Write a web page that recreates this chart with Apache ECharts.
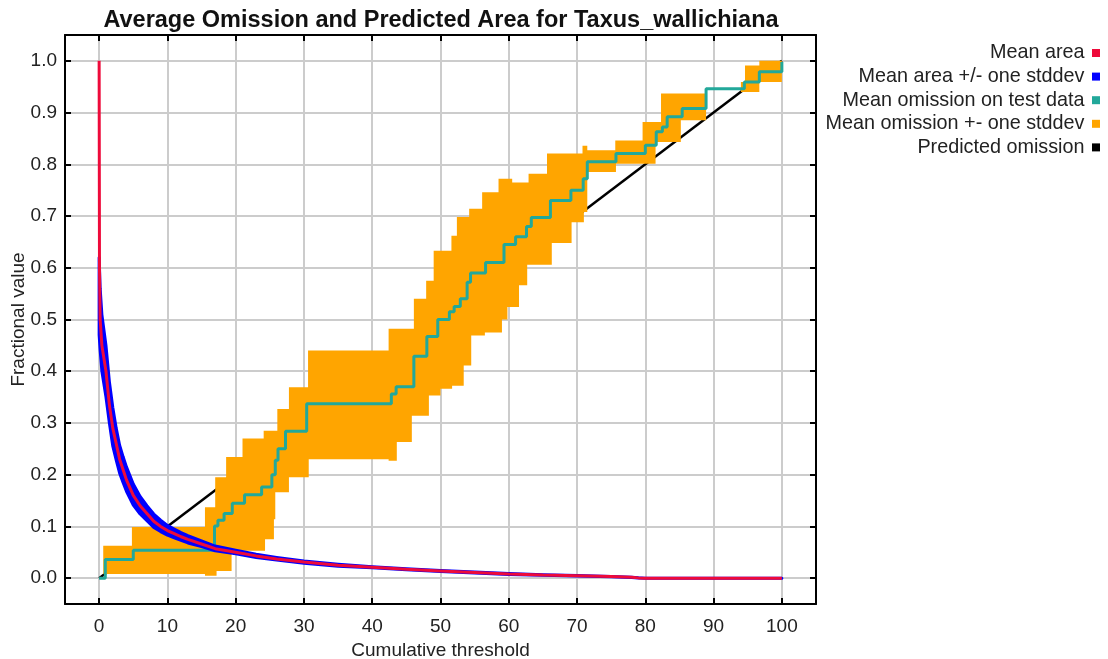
<!DOCTYPE html>
<html><head><meta charset="utf-8">
<script src="https://cdn.jsdelivr.net/npm/echarts@6/dist/echarts.min.js"></script>
<style>html,body{margin:0;padding:0;background:#fff}#c{width:1108px;height:659px}</style>
</head><body><div id="c"></div>
<script>
const titleText = 'Average Omission and Predicted Area for Taxus_wallichiana';
const xName = 'Cumulative threshold';
const yName = 'Fractional value';
const legendNames = ['Mean area', 'Mean area +/- one stddev', 'Mean omission on test data', 'Mean omission +- one stddev', 'Predicted omission'];

// Mean predicted area and +/- one stddev
const areaX    = [0, 0.05, 0.15, 0.4, 1, 1.5, 2, 2.5, 3, 3.5, 4, 5, 6, 7, 8, 9, 10, 11, 12, 13, 15, 17, 20, 23, 26, 30, 35, 40, 45, 50, 55, 60, 65, 70, 75, 78, 79, 80, 100];
const areaMean = [1.0, 0.60, 0.50, 0.45, 0.40, 0.335, 0.29, 0.26, 0.23, 0.21, 0.19, 0.16, 0.14, 0.125, 0.11, 0.10, 0.092, 0.086, 0.08, 0.075, 0.066, 0.057, 0.05, 0.043, 0.037, 0.031, 0.025, 0.021, 0.017, 0.014, 0.011, 0.008, 0.006, 0.0045, 0.003, 0.0015, 0.0005, 0, 0];
const areaHi   = [0.62, 0.60, 0.56, 0.51, 0.45, 0.38, 0.33, 0.29, 0.257, 0.235, 0.215, 0.182, 0.158, 0.14, 0.124, 0.112, 0.102, 0.095, 0.088, 0.082, 0.072, 0.062, 0.054, 0.046, 0.04, 0.033, 0.027, 0.022, 0.018, 0.015, 0.012, 0.009, 0.0065, 0.005, 0.0032, 0.0017, 0.0006, 0, 0];
const areaLo   = [0.47, 0.46, 0.44, 0.40, 0.35, 0.30, 0.255, 0.228, 0.203, 0.185, 0.168, 0.141, 0.124, 0.111, 0.098, 0.09, 0.083, 0.078, 0.073, 0.068, 0.061, 0.053, 0.047, 0.04, 0.035, 0.029, 0.023, 0.02, 0.016, 0.013, 0.01, 0.007, 0.0055, 0.004, 0.0028, 0.0013, 0.0004, 0, 0];

// Mean omission on test data (step: value starts at x)
const omMeanX = [0, 0.9, 5.0, 16.9, 17.4, 18.3, 19.5, 21.3, 23.8, 25.3, 25.8, 26.2, 27.3, 30.4, 42.8, 43.5, 46.1, 48.0, 49.6, 51.3, 52.0, 52.9, 53.9, 54.4, 56.6, 59.3, 61.0, 62.6, 63.3, 66.1, 69.1, 70.9, 71.5, 75.7, 80.0, 81.6, 82.5, 83.2, 85.4, 88.9, 94.5, 96.7, 100];
const omMeanY = [0, 0.036, 0.054, 0.101, 0.112, 0.125, 0.145, 0.161, 0.176, 0.200, 0.228, 0.250, 0.284, 0.337, 0.356, 0.370, 0.429, 0.467, 0.500, 0.515, 0.525, 0.540, 0.572, 0.590, 0.610, 0.645, 0.660, 0.680, 0.697, 0.730, 0.750, 0.772, 0.805, 0.821, 0.837, 0.863, 0.872, 0.892, 0.908, 0.946, 0.959, 0.979, 0.998];

// Mean omission + one stddev (upper step edge)
const omHiX = [0.6, 4.8, 15.5, 17.0, 18.6, 21.0, 24.1, 26.1, 27.8, 30.6, 42.4, 46.1, 47.9, 49.0, 51.6, 52.4, 54.2, 56.1, 58.5, 60.5, 62.9, 65.6, 70.8, 71.5, 75.6, 79.6, 82.3, 88.9, 94.0, 94.6, 96.7, 100];
const omHiY = [0.0625, 0.099, 0.137, 0.195, 0.234, 0.270, 0.285, 0.327, 0.369, 0.440, 0.482, 0.540, 0.575, 0.633, 0.662, 0.698, 0.714, 0.746, 0.772, 0.765, 0.782, 0.821, 0.836, 0.827, 0.846, 0.882, 0.937, 0.946, 0.959, 0.991, 1.0, 1.0];
// Mean omission - one stddev (lower step edge)
const omLoX = [0.6, 15.5, 17.2, 19.4, 24.3, 25.6, 25.8, 27.8, 30.7, 42.4, 43.6, 45.8, 48.3, 50.0, 51.7, 53.4, 54.5, 56.5, 59.0, 59.8, 61.5, 62.7, 66.3, 69.2, 71.0, 71.5, 75.7, 81.5, 85.2, 88.9, 94.0, 96.7, 100];
const omLoY = [0.008, 0.0045, 0.014, 0.053, 0.075, 0.114, 0.166, 0.195, 0.230, 0.227, 0.263, 0.314, 0.353, 0.366, 0.372, 0.411, 0.469, 0.475, 0.500, 0.524, 0.566, 0.606, 0.648, 0.688, 0.708, 0.785, 0.801, 0.843, 0.885, 0.946, 0.940, 0.959, 0.959];

// Predicted omission
const predX = [0, 100];
const predY = [0, 1];

const FONT = 'Liberation Sans';
const C_RED = '#ee0a3a', C_BLUE = '#0000ff', C_TEAL = '#22a89a', C_ORANGE = '#ffa500', C_BLACK = '#000000';

function pairs(xs, ys) { return xs.map((x, i) => [x, ys[i]]); }

function stepBandPoints() {
  const pts = [];
  for (let i = 0; i < omHiX.length; i++) {
    pts.push([omHiX[i], omHiY[i]]);
    if (i + 1 < omHiX.length) pts.push([omHiX[i + 1], omHiY[i]]);
  }
  const n = omLoX.length;
  pts.push([omLoX[n - 1], omLoY[n - 1]]);
  for (let i = n - 2; i >= 0; i--) {
    pts.push([omLoX[i + 1], omLoY[i]]);
    pts.push([omLoX[i], omLoY[i]]);
  }
  return pts;
}
function areaBandPoints() {
  const pts = [];
  for (let i = 0; i < areaX.length; i++) pts.push([areaX[i], areaHi[i]]);
  for (let i = areaX.length - 1; i >= 0; i--) pts.push([areaX[i], areaLo[i]]);
  return pts;
}
function polygonSeries(name, color, build, z, strokeW) {
  return {
    name, type: 'custom', data: [[0, 0]], z, silent: true, animation: false,
    itemStyle: { color },
    renderItem: function (params, api) {
      const pts = build().map(p => api.coord(p));
      return { type: 'polygon', shape: { points: pts },
        style: { fill: color, stroke: strokeW ? color : null, lineWidth: strokeW || 0, lineJoin: 'round' } };
    }
  };
}

const axisLbl = { fontFamily: FONT, fontSize: 19, color: '#222' };
const chart = echarts.init(document.getElementById('c'), null, { renderer: 'canvas' });
chart.setOption({
  animation: false,
  backgroundColor: '#ffffff',
  title: { text: titleText, left: 436, top: 4, textAlign: 'center',
    textStyle: { fontFamily: FONT, fontSize: 23.5, fontWeight: 'bold', color: '#111' } },
  legend: {
    orient: 'vertical', right: 3, top: 38, align: 'right',
    icon: 'path://M0,0L10,0L10,10L0,10Z', itemWidth: 13, itemHeight: 8, itemGap: 3.6,
    textStyle: { fontFamily: FONT, fontSize: 19.8, color: '#222' },
    data: legendNames.map((n, i) => ({ name: n, itemStyle: { color: [C_RED, C_BLUE, C_TEAL, C_ORANGE, C_BLACK][i] } })),
    selectedMode: false
  },
  grid: { left: 65, right: 292, top: 35, bottom: 55, containLabel: false, outerBoundsMode: 'none' },
  xAxis: [{
    type: 'value', min: -5, max: 105, minInterval: 10, maxInterval: 10, splitNumber: 11,
    name: xName, nameLocation: 'middle', nameGap: 36, nameTextStyle: { fontFamily: FONT, fontSize: 19, color: '#222' },
    axisLine: { show: true, onZero: false, lineStyle: { color: '#000', width: 2 } },
    axisTick: { show: true, inside: true, length: 6, lineStyle: { color: '#000', width: 2 } },
    axisLabel: Object.assign({ margin: 13, showMinLabel: false, showMaxLabel: false, formatter: v => String(Math.round(v)) }, axisLbl),
    splitLine: { show: true, lineStyle: { color: '#cccccc', width: 2 } }
  }, {
    type: 'value', position: 'top', min: -5, max: 105, minInterval: 10, maxInterval: 10, splitNumber: 11,
    axisLine: { show: true, onZero: false, lineStyle: { color: '#000', width: 2 } },
    axisTick: { show: true, inside: true, length: 6, lineStyle: { color: '#000', width: 2 } },
    axisLabel: { show: false }, splitLine: { show: false }
  }],
  yAxis: [{
    type: 'value', min: -0.05, max: 1.05, minInterval: 0.1, maxInterval: 0.1, splitNumber: 11,
    name: yName, nameLocation: 'middle', nameGap: 37, nameMoveOverlap: false,
    nameTextStyle: { fontFamily: FONT, fontSize: 19, color: '#222' },
    axisLine: { show: true, onZero: false, lineStyle: { color: '#000', width: 2 } },
    axisTick: { show: true, inside: true, length: 6, lineStyle: { color: '#000', width: 2 } },
    axisLabel: Object.assign({ margin: 8, showMinLabel: false, showMaxLabel: false, formatter: v => v.toFixed(1) }, axisLbl),
    splitLine: { show: true, lineStyle: { color: '#cccccc', width: 2 } }
  }, {
    type: 'value', position: 'right', min: -0.05, max: 1.05, minInterval: 0.1, maxInterval: 0.1, splitNumber: 11,
    axisLine: { show: true, onZero: false, lineStyle: { color: '#000', width: 2 } },
    axisTick: { show: true, inside: true, length: 6, lineStyle: { color: '#000', width: 2 } },
    axisLabel: { show: false }, splitLine: { show: false }
  }],
  series: [
    { name: 'Predicted omission', type: 'line', data: pairs(predX, predY), symbol: 'none', z: 2,
      lineStyle: { color: C_BLACK, width: 2.5 }, itemStyle: { color: C_BLACK }, silent: true },
    polygonSeries('Mean omission +- one stddev', C_ORANGE, stepBandPoints, 3, 0),
    { name: 'Mean omission on test data', type: 'line', step: 'end', data: pairs(omMeanX, omMeanY), symbol: 'none', z: 4,
      lineStyle: { color: C_TEAL, width: 3 }, itemStyle: { color: C_TEAL }, silent: true },
    polygonSeries('Mean area +/- one stddev', C_BLUE, areaBandPoints, 5, 3),
    { name: 'Mean area', type: 'line', data: pairs(areaX, areaMean), symbol: 'none', z: 6,
      lineStyle: { color: C_RED, width: 3 }, itemStyle: { color: C_RED }, silent: true }
  ]
});
</script>
</body></html>
